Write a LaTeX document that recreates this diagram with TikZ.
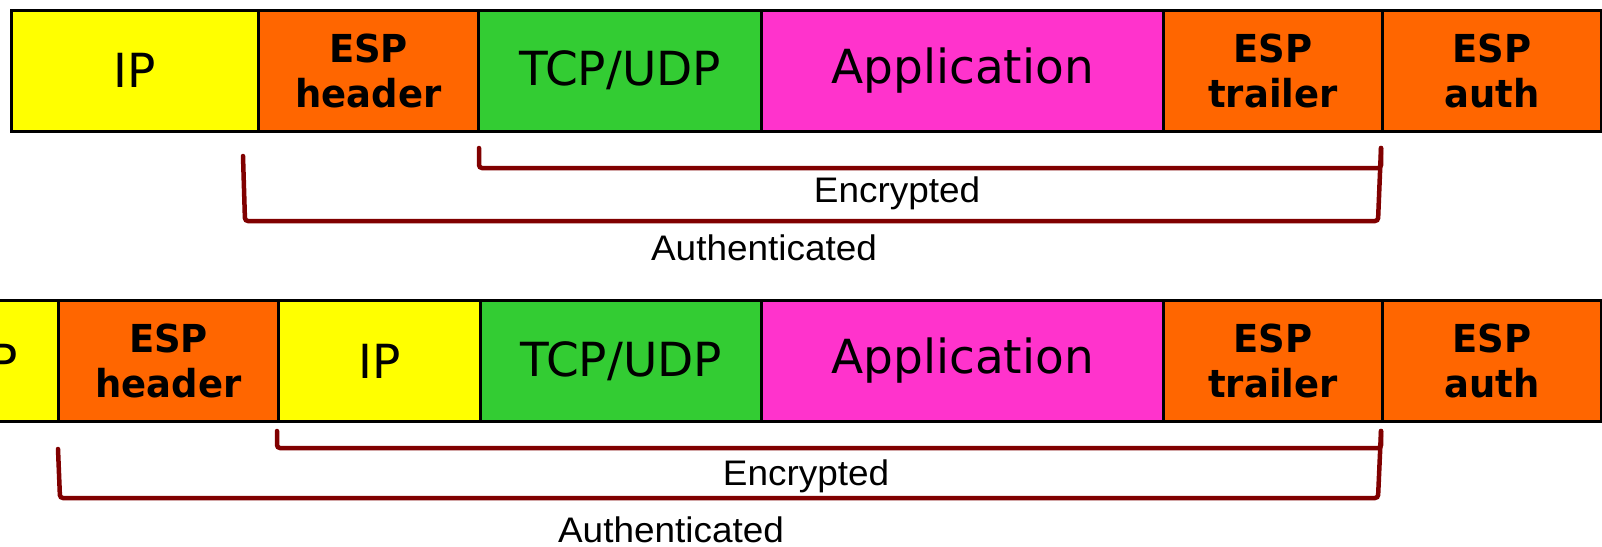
\documentclass[tikz,border=0pt]{standalone}
\usepackage{fontspec}
\newfontfamily\fieldfont{DejaVu Sans}
\newfontfamily\fieldbold[FakeStretch=0.96]{DejaVu Sans Bold}
\newfontfamily\spanfont[FakeStretch=1.04]{Liberation Sans}
\definecolor{ipyellow}{HTML}{FFFF00}
\definecolor{esporange}{HTML}{FF6600}
\definecolor{tcpgreen}{HTML}{33CC33}
\definecolor{appmagenta}{HTML}{FF33CC}
\definecolor{spanred}{HTML}{800000}
\tikzset{
  field/.style={draw=black, line width=3pt, minimum height=121pt, inner sep=0pt,
    anchor=west, align=center},
  plain/.style={field, font=\fieldfont\fontsize{47}{52}\selectfont},
  espf/.style={field, fill=esporange, font=\fieldbold\fontsize{38.5}{45}\selectfont},
  bracket/.style={draw=spanred, line width=4.5pt, rounded corners=3pt, line cap=round},
  spanlabel/.style={anchor=base, inner sep=0pt, font=\spanfont\fontsize{35.5}{40}\selectfont}
}
\begin{document}
\begin{tikzpicture}[x=1pt, y=-1pt]
\useasboundingbox (0,0) rectangle (1602,546);
\clip (0,0) rectangle (1602,546);
\fill[white] (0,0) rectangle (1602,546);

% transport mode
\node[plain, fill=ipyellow, minimum width=247pt]   (ipA)  at (10,70.5)   {IP};
\node[espf, minimum width=220pt]                   (ehA)  at (257,70.5)  {ESP\\header};
\node[plain, fill=tcpgreen, minimum width=283pt]   (tcpA) at (477,70.5)  {TCP/UDP};
\node[plain, fill=appmagenta, minimum width=402pt] (appA) at (760,70.5)  {Application};
\node[espf, minimum width=219pt]                   (etA)  at (1162,70.5) {ESP\\trailer};
\node[espf, minimum width=219pt]                   (eaA)  at (1381,70.5) {ESP\\auth};

\coordinate (encA1) at (479,148);
\coordinate (encA2) at (1381,148);
\coordinate (autA1) at (243,156);
\draw[bracket] (encA1) -- (479,168) -- (1381,168) -- (encA2);
\draw[bracket] (autA1) -- (245,221) -- (1378,221) -- (encA2);
\node[spanlabel] (encAlbl) at (897,202) {Encrypted};
\node[spanlabel] (autAlbl) at (764,260) {Authenticated};

% tunnel mode
\node[plain, fill=ipyellow, minimum width=124pt]   (ipB0) at (-67,361)   {IP};
\node[espf, minimum width=220pt]                   (ehB)  at (57,361)    {ESP\\header};
\node[plain, fill=ipyellow, minimum width=202pt]   (ipB)  at (277,361)   {IP};
\node[plain, fill=tcpgreen, minimum width=281pt]   (tcpB) at (479,361)   {TCP/UDP};
\node[plain, fill=appmagenta, minimum width=402pt] (appB) at (760,361)   {Application};
\node[espf, minimum width=219pt]                   (etB)  at (1162,361)  {ESP\\trailer};
\node[espf, minimum width=219pt]                   (eaB)  at (1381,361)  {ESP\\auth};

\coordinate (encB1) at (277,431);
\coordinate (encB2) at (1381,431);
\coordinate (autB1) at (58,449);
\draw[bracket] (encB1) -- (277,448) -- (1381,448) -- (encB2);
\draw[bracket] (autB1) -- (60,498) -- (1378,498) -- (encB2);
\node[spanlabel] (encBlbl) at (806,485) {Encrypted};
\node[spanlabel] (autBlbl) at (671,542) {Authenticated};
\end{tikzpicture}
\end{document}
